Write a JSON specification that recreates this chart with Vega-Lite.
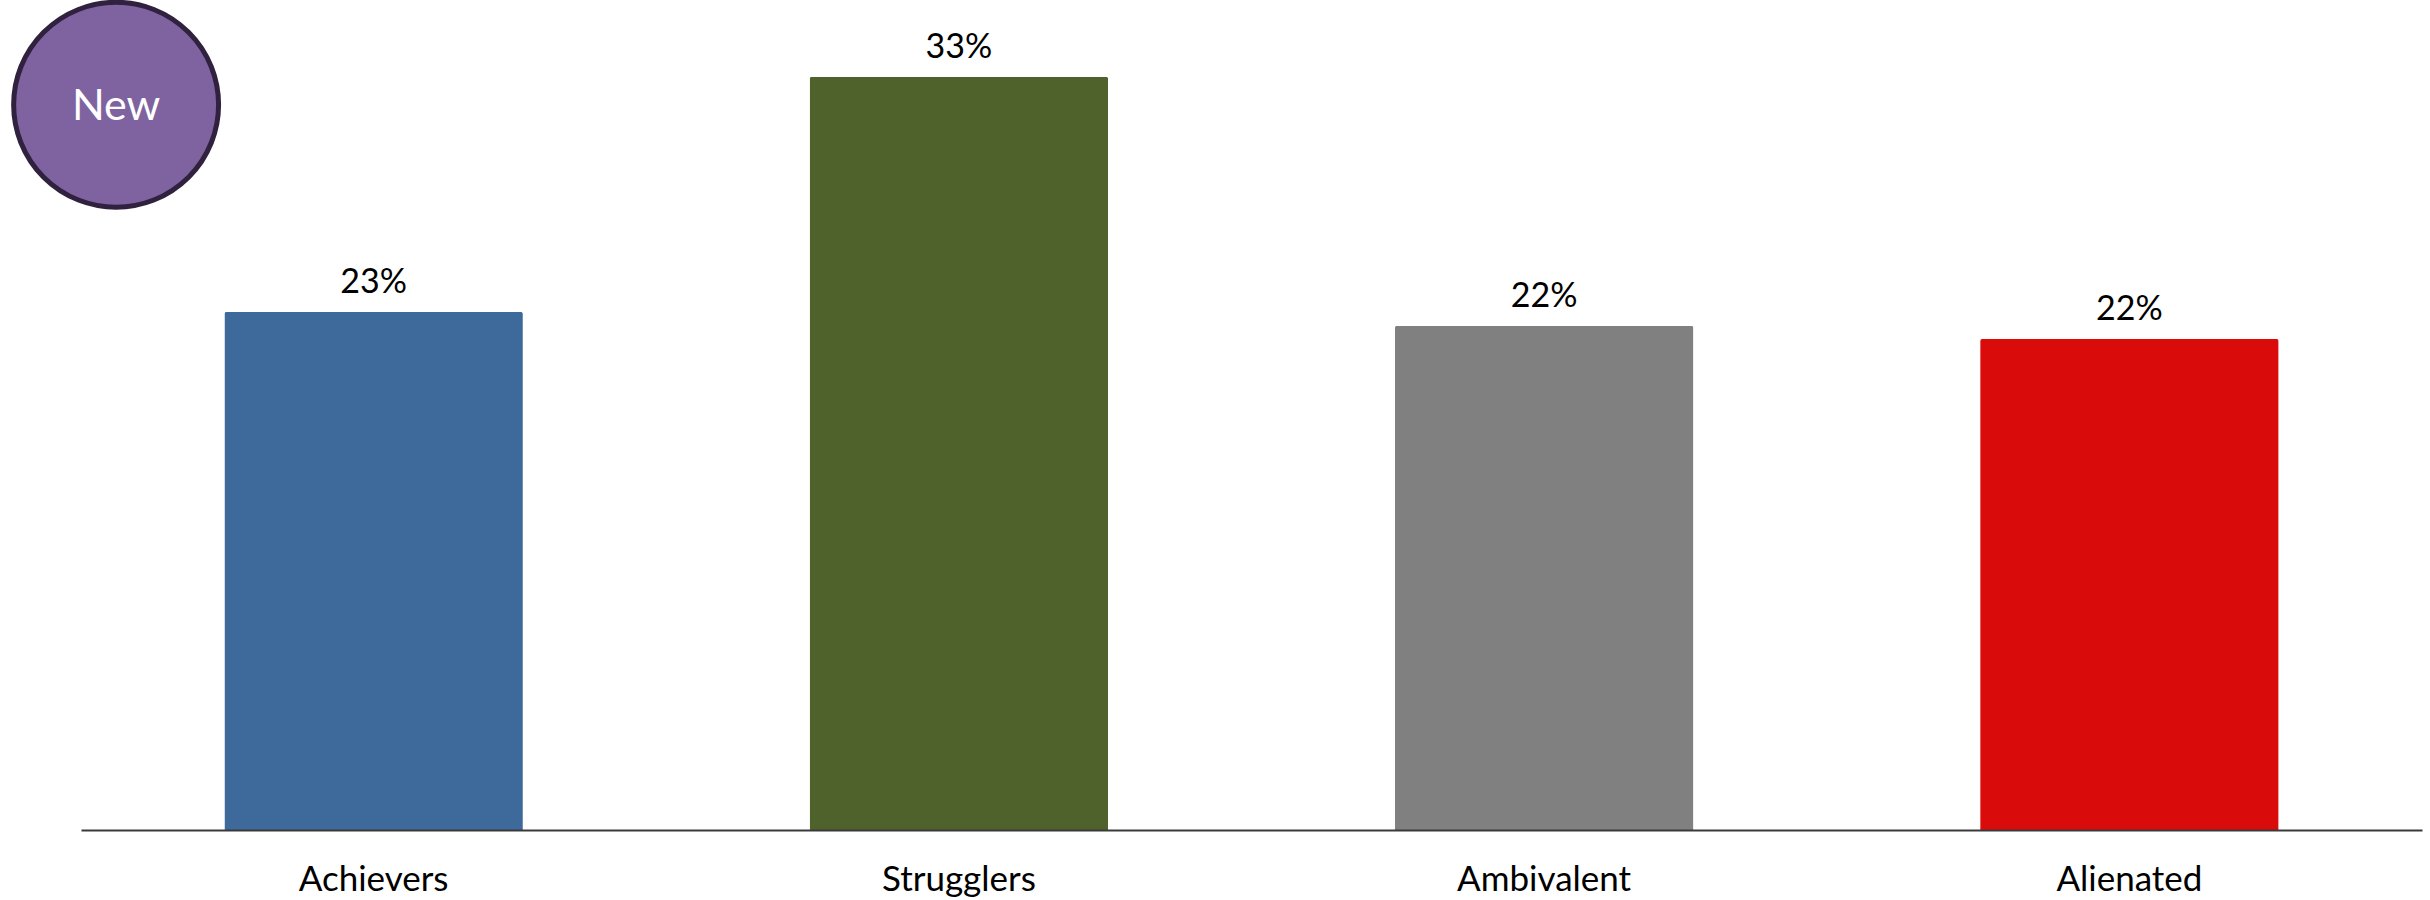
{
  "$schema": "https://vega.github.io/schema/vega-lite/v6.json",
  "autosize": {"type": "none"},
  "padding": {"left": 81, "top": 0, "right": 8, "bottom": 70},
  "width": 2341,
  "height": 830,
  "background": "white",
  "config": {"view": {"stroke": null}, "font": "Lato"},
  "datasets": {
    "segments": [
      {"segment": "Achievers", "share": 0.227},
      {"segment": "Strugglers", "share": 0.330},
      {"segment": "Ambivalent", "share": 0.2209},
      {"segment": "Alienated", "share": 0.2151}
    ],
    "badge": [{"badge": "New"}]
  },
  "layer": [
    {
      "data": {"name": "segments"},
      "layer": [
        {
          "mark": {"type": "bar", "cornerRadiusTopLeft": 2, "cornerRadiusTopRight": 2},
          "encoding": {
            "x": {
              "field": "segment", "type": "nominal", "sort": null,
              "scale": {"paddingInner": 0.49, "paddingOuter": 0.245},
              "axis": {
                "title": null, "ticks": false, "tickSize": 0, "labelAngle": 0,
                "labelFontSize": 35, "labelColor": "#000000", "labelFont": "Lato",
                "labelBaseline": "alphabetic", "labelPadding": 60,
                "domainColor": "#3a3a3a", "domainWidth": 2, "grid": false, "zindex": 1
              }
            },
            "y": {
              "field": "share", "type": "quantitative",
              "scale": {"domain": [0, 0.3637], "nice": false, "zero": true},
              "axis": null
            },
            "color": {
              "field": "segment", "type": "nominal",
              "scale": {
                "domain": ["Achievers", "Strugglers", "Ambivalent", "Alienated"],
                "range": ["#3E6A9B", "#4F622B", "#808080", "#D90B0B"]
              },
              "legend": null
            }
          }
        },
        {
          "mark": {"type": "text", "baseline": "alphabetic", "dy": -19, "fontSize": 34, "color": "#000000"},
          "encoding": {
            "x": {"field": "segment", "type": "nominal", "sort": null},
            "y": {"field": "share", "type": "quantitative"},
            "text": {"field": "share", "type": "quantitative", "format": ".0%"}
          }
        }
      ]
    },
    {
      "data": {"name": "badge"},
      "layer": [
        {
          "mark": {"type": "point", "shape": "circle", "filled": true, "size": 42000, "fill": "#7E63A0", "stroke": "#30223F", "strokeWidth": 5, "opacity": 1, "fillOpacity": 1, "strokeOpacity": 1},
          "encoding": {
            "x": {"datum": 0.015, "type": "quantitative", "scale": {"domain": [0, 1]}, "axis": null},
            "y": {"datum": 0.3178, "type": "quantitative"}
          }
        },
        {
          "mark": {"type": "text", "baseline": "middle", "align": "center", "fontSize": 43, "color": "#FFFFFF", "dy": 2},
          "encoding": {
            "x": {"datum": 0.015, "type": "quantitative", "scale": {"domain": [0, 1]}, "axis": null},
            "y": {"datum": 0.3178, "type": "quantitative"},
            "text": {"field": "badge"}
          }
        }
      ]
    }
  ],
  "resolve": {"scale": {"x": "independent"}}
}
